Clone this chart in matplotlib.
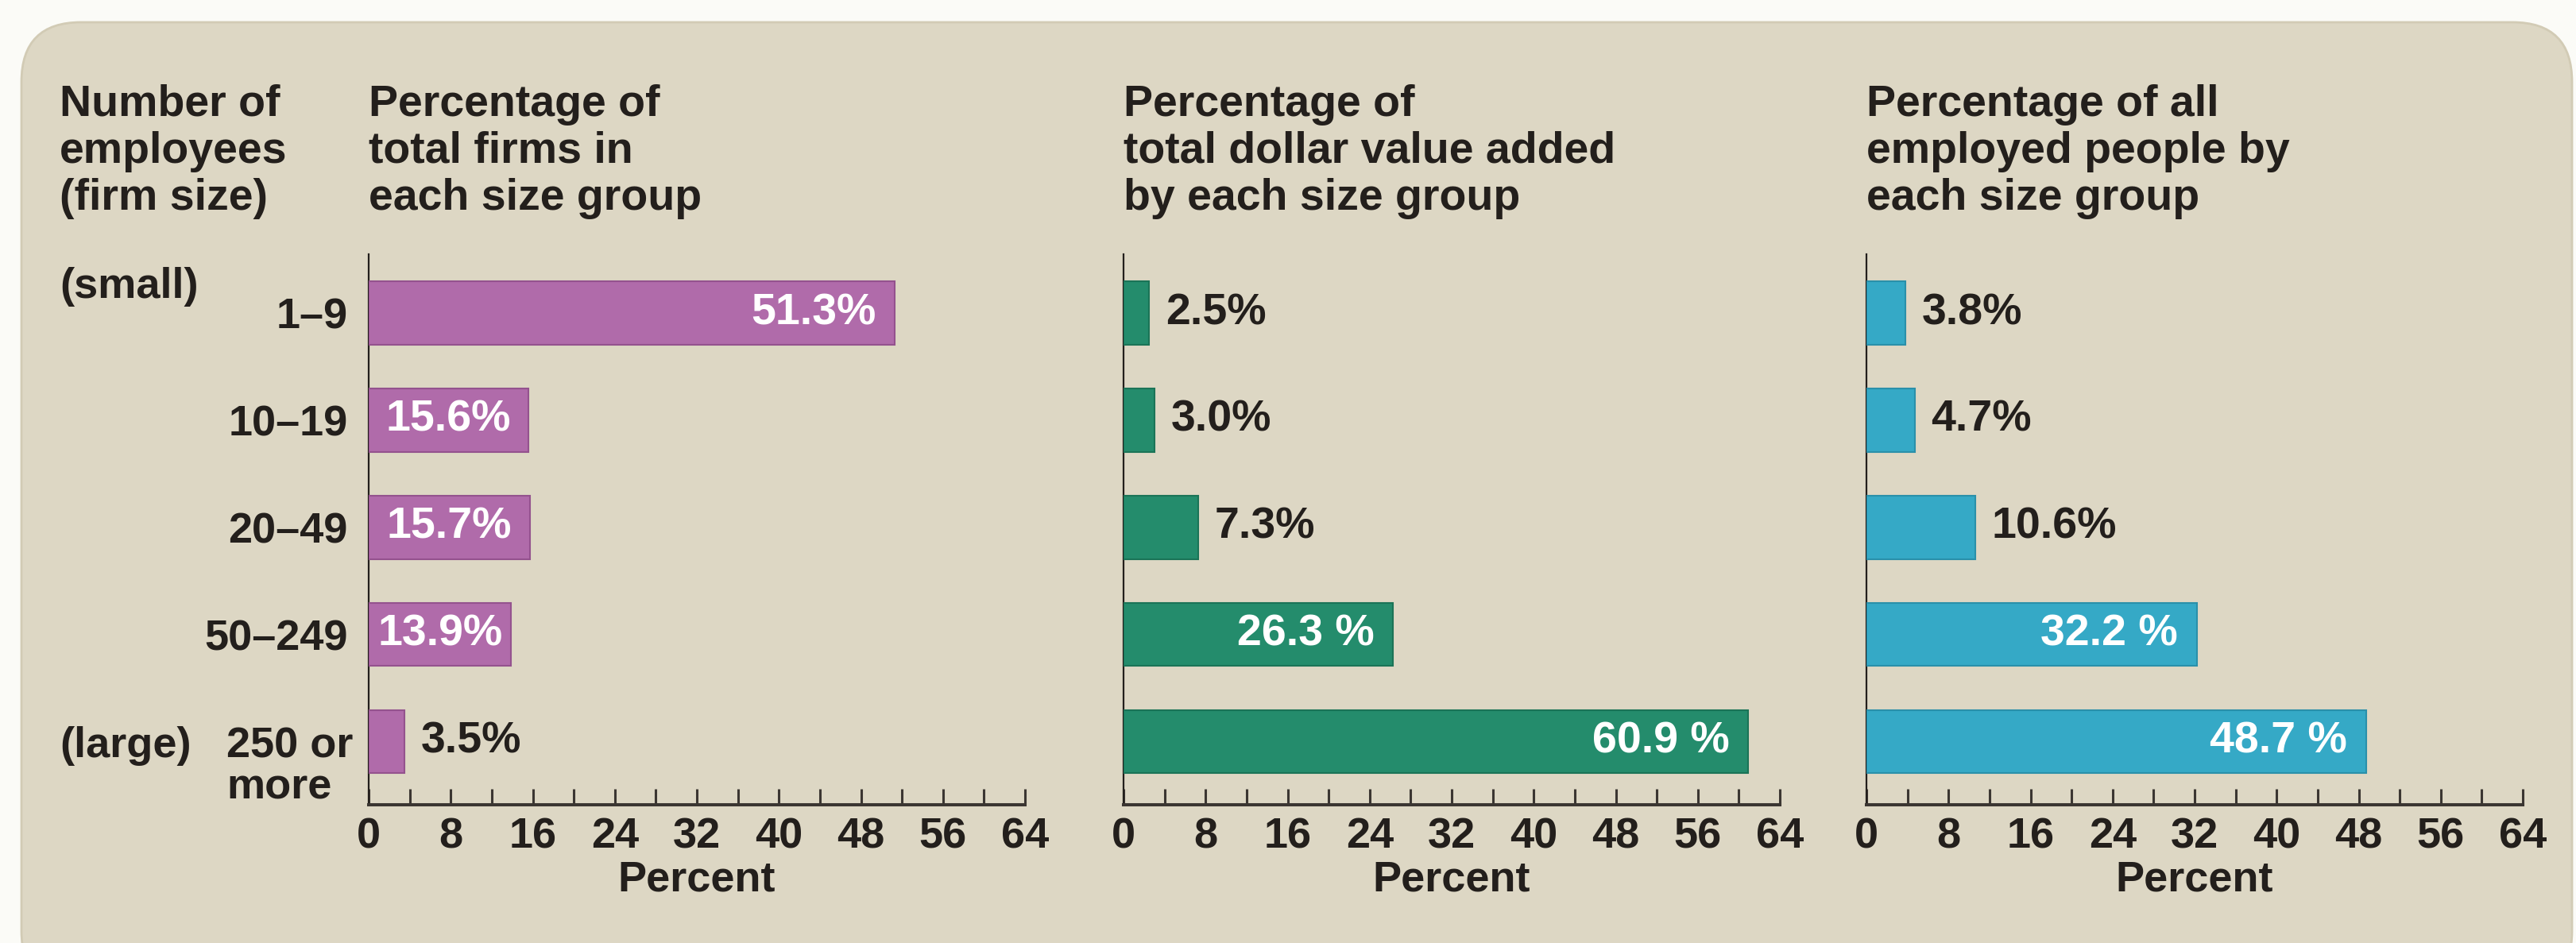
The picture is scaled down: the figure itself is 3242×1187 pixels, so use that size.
import matplotlib
matplotlib.use("Agg")
import matplotlib.pyplot as plt
from matplotlib.patches import FancyBboxPatch

plt.rcParams["font.family"] = ["Liberation Sans", "DejaVu Sans"]
plt.rcParams["font.weight"] = "bold"

# data
size_groups = ["1–9", "10–19", "20–49", "50–249", "250 or\nmore"]
firms_pct = [51.3, 15.6, 15.7, 13.9, 3.5]
value_added_pct = [2.5, 3.0, 7.3, 26.3, 60.9]
employment_pct = [3.8, 4.7, 10.6, 32.2, 48.7]
firms_labels = ["51.3%", "15.6%", "15.7%", "13.9%", "3.5%"]
value_added_labels = ["2.5%", "3.0%", "7.3%", "26.3 %", "60.9 %"]
employment_labels = ["3.8%", "4.7%", "10.6%", "32.2 %", "48.7 %"]
panel_titles = [
    "Percentage of\ntotal firms in\neach size group",
    "Percentage of\ntotal dollar value added\nby each size group",
    "Percentage of all\nemployed people by\neach size group",
]
x_ticks = list(range(0, 65, 8))

W, H = 3242, 1187
DPI = 100
BG = "#DDD7C4"
INK = "#231F1C"
AXIS = "#3B3632"
COLORS = ["#B06BAA", "#248C6C", "#35A9C6"]
EDGES = ["#94528E", "#1B7457", "#2A90AA"]

fig = plt.figure(figsize=(W / DPI, H / DPI), dpi=DPI, facecolor="#FBFBF7")

# rounded beige panel behind everything (inches)
bg = FancyBboxPatch((0.27, -0.6), 32.10, (H - 28) / DPI + 0.6,
                    boxstyle="round,pad=0,rounding_size=0.75",
                    transform=fig.dpi_scale_trans, fc=BG, ec="#D2CBB5", lw=2,
                    zorder=-10)
fig.patches.append(bg)


def px_box(left, top, right, bottom):
    return [left / W, 1 - bottom / H, (right - left) / W, (bottom - top) / H]


lefts = [464, 1414, 2349]
ax_w = 826
ax_top, ax_bot = 320, 1013

series = [firms_pct, value_added_pct, employment_pct]
labels = [firms_labels, value_added_labels, employment_labels]

axes = []
for k in range(3):
    ax = fig.add_axes(px_box(lefts[k], ax_top, lefts[k] + ax_w, ax_bot))
    ax.set_zorder(2)
    ax.set_facecolor("none")
    ypos = list(range(len(size_groups)))
    ax.barh(ypos, series[k], height=0.59, color=COLORS[k],
            edgecolor=EDGES[k], linewidth=1.5, zorder=3)
    ax.set_xlim(0, 64)
    ax.set_ylim(4.59, -0.55)

    for s in ["top", "right"]:
        ax.spines[s].set_visible(False)
    ax.spines["left"].set_linewidth(1.6)
    ax.spines["left"].set_color(INK)
    ax.spines["bottom"].set_linewidth(2.9)
    ax.spines["bottom"].set_color(AXIS)

    ax.set_yticks([])
    ax.set_xticks(x_ticks)
    ax.set_xticks([4 + 8 * i for i in range(8)], minor=True)
    ax.tick_params(axis="x", which="both", direction="in", length=14.5,
                   width=2.2, color=AXIS, labelsize=39, labelcolor=INK, pad=11)
    ax.set_xlabel("Percent", fontsize=39, fontweight="bold", color=INK, labelpad=3)

    # value labels
    for i, (v, lab) in enumerate(zip(series[k], labels[k])):
        if v >= 20:
            ax.annotate(lab, xy=(v, i), xytext=(-17, 0), textcoords="offset points",
                        ha="right", va="center", color="white", fontsize=40, zorder=4)
        elif v >= 12:
            ax.annotate(lab, xy=(v / 2, i), ha="center", va="center",
                        color="white", fontsize=40, zorder=4)
        else:
            ax.annotate(lab, xy=(v, i), xytext=(15, 0), textcoords="offset points",
                        ha="left", va="center", color=INK, fontsize=40, zorder=4)

    fig.text(lefts[k] / W, 1 - 106 / H, panel_titles[k], ha="left", va="top",
             fontsize=40, color=INK, linespacing=1.17)
    axes.append(ax)

# row labels on the first panel
ax0 = axes[0]
for i, g in enumerate(size_groups):
    if "\n" in g:
        # first line level with the bar, second line below it
        ax0.annotate(g, xy=(0, i), xycoords=("axes fraction", "data"),
                     xytext=(-14, -52), textcoords="offset points",
                     ha="right", va="baseline", multialignment="left",
                     fontsize=39, color=INK, linespacing=1.05)
    else:
        ax0.annotate(g, xy=(0, i), xycoords=("axes fraction", "data"),
                     xytext=(-19, 0), textcoords="offset points",
                     ha="right", va="center_baseline", fontsize=39, color=INK)
ax0.annotate("(small)", xy=(0, 0), xycoords=("axes fraction", "data"),
             xytext=(-280, 28), textcoords="offset points",
             ha="left", va="center_baseline", fontsize=39, color=INK)
ax0.annotate("(large)", xy=(0, 4), xycoords=("axes fraction", "data"),
             xytext=(-280, 0), textcoords="offset points",
             ha="left", va="center_baseline", fontsize=39, color=INK)

fig.text(75 / W, 1 - 106 / H, "Number of\nemployees\n(firm size)", ha="left",
         va="top", fontsize=40, color=INK, linespacing=1.17)

fig.savefig("out.png", dpi=DPI, facecolor=fig.get_facecolor())
